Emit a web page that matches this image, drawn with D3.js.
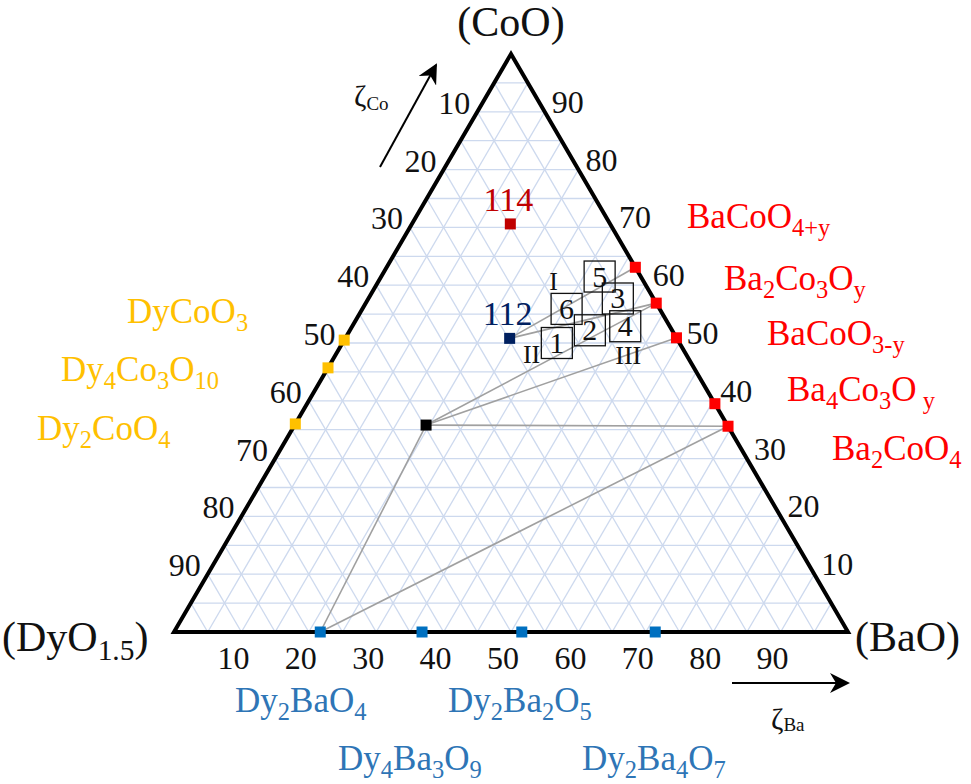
<!DOCTYPE html>
<html>
<head>
<meta charset="utf-8">
<script src="https://cdn.jsdelivr.net/npm/d3@7"></script>
<style>
body{margin:0;background:#fff;}
svg text{font-family:"Liberation Serif","Times New Roman",serif;}
</style>
</head>
<body>
<div id="chart"></div>
<script>
// ternary data, values in % : b = BaO, c = CoO (DyO1.5 is the rest)
var ticks = [10,20,30,40,50,60,70,80,90];
var gridSteps = d3.range(5,100,5);

// compounds on the DyO1.5 - CoO side
var dyCoNames = ["DyCoO_3","Dy_4Co_3O_{10}","Dy_2CoO_4"];
var dyCoCo = [50.5,45.7,36.0];

// compounds on the BaO - CoO side
var baCoNames = ["BaCoO_{4+y}","Ba_2Co_3O_y","BaCoO_{3-y}","Ba_4Co_3O_{ y}","Ba_2CoO_4"];
var baCoCo = [63.1,56.9,50.9,39.5,35.6];

// compounds on the DyO1.5 - BaO side
var dyBaNames = ["Dy_2BaO_4","Dy_4Ba_3O_9","Dy_2Ba_2O_5","Dy_2Ba_4O_7"];
var dyBaBa = [21.7,36.8,51.6,71.4];

// inner phases
var innerNames = ["114","112","x"];
var innerBa = [14.6,24.4,19.5];
var innerCo = [70.6,50.8,35.8];

// samples (numbered boxes)
var sampleNames = ["1","2","3","4","5","6"];
var sampleBa = [31.8,35.6,37.0,40.5,32.4,30.3];
var sampleCo = [50.0,52.2,57.7,52.9,61.5,55.9];

// region labels
var regionNames = ["I","II","III"];
var regionBa = [25.9,29.0,43.4];
var regionCo = [60.8,48.1,48.0];

// tie lines [from, to]
var tieLines = [
  ["x","Dy_2BaO_4"],["x","Ba_2CoO_4"],["Dy_2BaO_4","Ba_2CoO_4"],
  ["x","Ba_2Co_3O_y"],["x","BaCoO_{3-y}"],
  ["112","BaCoO_{4+y}"],["112","Ba_2Co_3O_y"]
];

var W = 971, H = 784;
var svg = d3.select("#chart").append("svg").attr("width",W).attr("height",H);

// x maps (b + c/2), y maps c
var x = d3.scaleLinear().domain([0,100]).range([174,848]);
var y = d3.scaleLinear().domain([0,100]).range([632,54]);
function P(b,c){ return [x(b + c/2), y(c)]; }

// build the point table
var pts = {};
dyCoNames.forEach(function(n,i){ pts[n] = {b:0, c:dyCoCo[i], col:"#FFC000"}; });
baCoNames.forEach(function(n,i){ pts[n] = {b:100-baCoCo[i], c:baCoCo[i], col:"#FF0000"}; });
dyBaNames.forEach(function(n,i){ pts[n] = {b:dyBaBa[i], c:0, col:"#0070C0"}; });
var innerCols = ["#C00000","#002060","#000000"];
innerNames.forEach(function(n,i){ pts[n] = {b:innerBa[i], c:innerCo[i], col:innerCols[i]}; });

// grid clipped to triangle
svg.append("clipPath").attr("id","tri").append("path")
  .attr("d","M"+P(0,0)+"L"+P(100,0)+"L"+P(0,100)+"Z");
var grid = svg.append("g").attr("clip-path","url(#tri)")
  .attr("stroke","#CDD9EE").attr("stroke-width",1.3);
gridSteps.forEach(function(k){
  var a = [P(0,k),P(100-k,k)], b = [P(k,0),P(k,100-k)], c = [P(100-k,0),P(0,100-k)];
  [a,b,c].forEach(function(s){
    grid.append("line").attr("x1",s[0][0]).attr("y1",s[0][1]).attr("x2",s[1][0]).attr("y2",s[1][1]);
  });
});

// tie lines
svg.append("g").selectAll("line").data(tieLines).enter().append("line")
  .attr("x1",function(d){return P(pts[d[0]].b,pts[d[0]].c)[0];})
  .attr("y1",function(d){return P(pts[d[0]].b,pts[d[0]].c)[1];})
  .attr("x2",function(d){return P(pts[d[1]].b,pts[d[1]].c)[0];})
  .attr("y2",function(d){return P(pts[d[1]].b,pts[d[1]].c)[1];})
  .attr("stroke","#A0A0A0").attr("stroke-width",1.6);

// triangle
svg.append("path").attr("d","M"+P(0,0)+"L"+P(100,0)+"L"+P(0,100)+"Z")
  .attr("fill","none").attr("stroke","#000").attr("stroke-width",4).attr("stroke-linejoin","miter");

// text helper with subscripts  ("_x" or "_{..}")
function rich(sel, str, fs){
  var parts = str.split(/(_\{[^}]*\}|_.)/).filter(function(s){return s.length;});
  var shift = fs*0.22, down = false;
  parts.forEach(function(p){
    if(p[0]==="_"){
      var t = p[1]==="{" ? p.slice(2,-1) : p.slice(1);
      sel.append("tspan").attr("font-size",fs*0.7).attr("dy",down?0:shift).text(t);
      down = true;
    } else {
      sel.append("tspan").attr("font-size",fs).attr("dy",down?-shift:0).text(p);
      down = false;
    }
  });
}

// axis tick labels
var tl = svg.append("g").attr("font-size",32).attr("fill","#111").attr("text-anchor","middle");
ticks.forEach(function(t){
  var pb = P(t,0); // bottom: BaO
  tl.append("text").attr("x",pb[0]-8).attr("y",pb[1]+37).text(t);
  var pl = P(0,100-t); // left: DyO1.5
  tl.append("text").attr("x",pl[0]-23).attr("y",pl[1]+2).text(t);
  var pr = P(100-t,t); // right: CoO
  tl.append("text").attr("x",pr[0]+23).attr("y",pr[1]+1).text(t);
});

// vertex labels
var vl = svg.append("g").attr("fill","#111");
rich(vl.append("text").attr("x",511).attr("y",36).attr("text-anchor","middle"),"(CoO)",42);
rich(vl.append("text").attr("x",2).attr("y",651),"(DyO_{1.5})",42);
rich(vl.append("text").attr("x",855).attr("y",651),"(BaO)",42);

// compound labels
var labelPos = {
  "DyCoO_3":[127,323],"Dy_4Co_3O_{10}":[61,381],"Dy_2CoO_4":[37,440],
  "BaCoO_{4+y}":[687,228],"Ba_2Co_3O_y":[724,290],"BaCoO_{3-y}":[767,345],"Ba_4Co_3O_{ y}":[787,401],"Ba_2CoO_4":[832,460],
  "Dy_2BaO_4":[235,712],"Dy_4Ba_3O_9":[338,770],"Dy_2Ba_2O_5":[448,712],"Dy_2Ba_4O_7":[582,770]
};
var blueText = "#2E75B6";
Object.keys(labelPos).forEach(function(n){
  var col = pts[n].col === "#0070C0" ? blueText : pts[n].col;
  rich(svg.append("text").attr("x",labelPos[n][0]).attr("y",labelPos[n][1]).attr("fill",col), n, 35);
});

// inner phase labels
["114","112"].forEach(function(n){
  var p = P(pts[n].b,pts[n].c);
  svg.append("text").attr("x",p[0]-2).attr("y",p[1]-13).attr("text-anchor","middle")
    .attr("font-size",34).attr("fill",pts[n].col).text(n);
});

// sample boxes
var sb = svg.append("g");
sampleNames.forEach(function(n,i){
  var p = P(sampleBa[i],sampleCo[i]);
  sb.append("rect").attr("x",p[0]-15.5).attr("y",p[1]-15.5).attr("width",31).attr("height",31)
    .attr("fill","none").attr("stroke","#111").attr("stroke-width",1.3);
  sb.append("text").attr("x",p[0]).attr("y",p[1]+10).attr("text-anchor","middle")
    .attr("font-size",30).attr("fill","#111").text(n);
});
regionNames.forEach(function(n,i){
  var p = P(regionBa[i],regionCo[i]);
  sb.append("text").attr("x",p[0]).attr("y",p[1]+9).attr("text-anchor","middle")
    .attr("font-size",26).attr("fill","#111").text(n);
});

// markers
var names = Object.keys(pts);
svg.append("g").selectAll("rect").data(names).enter().append("rect")
  .attr("x",function(n){return P(pts[n].b,pts[n].c)[0]-5.5;})
  .attr("y",function(n){return P(pts[n].b,pts[n].c)[1]-5.5;})
  .attr("width",11).attr("height",11)
  .attr("fill",function(n){return pts[n].col;});

// direction arrows
var defs = svg.append("defs");
defs.append("marker").attr("id","arr").attr("viewBox","0 0 10 10").attr("refX",9).attr("refY",5)
  .attr("markerWidth",20).attr("markerHeight",20).attr("markerUnits","userSpaceOnUse").attr("orient","auto")
  .append("path").attr("d","M0,0L10,5L0,10L3,5Z").attr("fill","#000");
svg.append("line").attr("x1",380).attr("y1",167).attr("x2",436).attr("y2",65)
  .attr("stroke","#000").attr("stroke-width",2).attr("marker-end","url(#arr)");
svg.append("line").attr("x1",732).attr("y1",683).attr("x2",848).attr("y2",683)
  .attr("stroke","#000").attr("stroke-width",2).attr("marker-end","url(#arr)");

var zc = svg.append("text").attr("x",354).attr("y",106).attr("fill","#111");
zc.append("tspan").attr("font-size",30).text("\u03B6");
zc.append("tspan").attr("font-size",19).attr("dy",4).text("Co");
var zb = svg.append("text").attr("x",771).attr("y",729).attr("fill","#111");
zb.append("tspan").attr("font-size",30).text("\u03B6");
zb.append("tspan").attr("font-size",19).attr("dy",2).text("Ba");
</script>
</body>
</html>
